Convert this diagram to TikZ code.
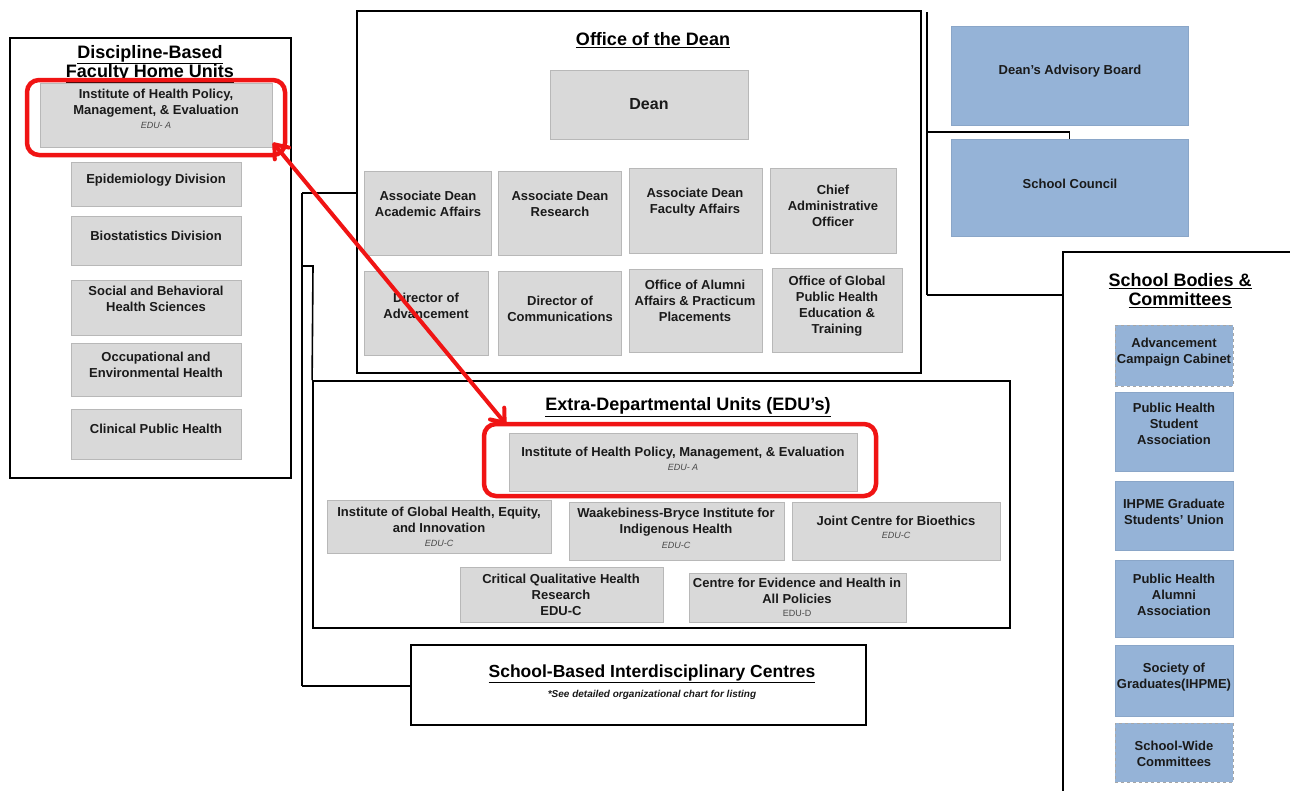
\documentclass[tikz,border=0pt]{standalone}
\usepackage{fontspec}
\setmainfont{Liberation Sans}
\usetikzlibrary{fit,calc}
\definecolor{boxgray}{HTML}{D9D9D9}
\definecolor{boxgrayline}{HTML}{B8B8B8}
\definecolor{boxblue}{HTML}{95B3D7}
\definecolor{boxblueline}{HTML}{8AA6C8}
\definecolor{textc}{HTML}{1A1A1A}
\definecolor{hlred}{HTML}{F01414}
\tikzset{
  frame/.style={draw=black, line width=1.8pt, inner sep=0pt},
  gbox/.style={draw=boxgrayline, fill=boxgray, line width=0.7pt, inner sep=0pt},
  bbox/.style={draw=boxblueline, fill=boxblue, line width=0.7pt, inner sep=0pt},
  dbbox/.style={bbox, draw=gray!70, dashed},
  txt/.style={font=\bfseries\fontsize{13}{16}\selectfont, align=center, text=textc, inner sep=0pt},
  bigtxt/.style={font=\bfseries\fontsize{16}{19}\selectfont, align=center, text=textc, inner sep=0pt},
  edu/.style={font=\itshape\fontsize{9}{11}\selectfont, text=textc!80, inner sep=0pt},
  ttl/.style={font=\bfseries\fontsize{18}{19}\selectfont, align=center, text=black, inner sep=0pt},
  subttl/.style={font=\bfseries\itshape\fontsize{10}{12}\selectfont, text=textc, inner sep=0pt},
  conn/.style={line width=1.6pt, draw=black},
  hl/.style={draw=hlred, line width=4.5pt, rounded corners=12pt, inner sep=0pt},
  redline/.style={draw=hlred, line width=4pt, line cap=round, line join=round}
}
\begin{document}
\begin{tikzpicture}[x=1pt,y=-1pt]
\useasboundingbox (0,0) rectangle (1290,790);
\fill[white] (0,0) rectangle (1290,790);

% ---------- Left: Discipline-Based Faculty Home Units ----------
\node[frame, fit={(10,38)(291,478)}] (disc) {};
\node[ttl] (discT) at (150,64) {\underline{Discipline-Based}\\\underline{Faculty Home Units}};
\node[gbox, fit={(40,83)(272,147)}] (hpL) {};
\node[txt] at (156,103.5) {Institute of Health Policy,\\Management, \& Evaluation};
\node[edu] at (156,125) {EDU- A};
\node[gbox, fit={(71,162)(241,206)}] (epi) {};
\node[txt] at (156,180) {Epidemiology Division};
\node[gbox, fit={(71,216)(241,265)}] (bio) {};
\node[txt] at (156,236) {Biostatistics Division};
\node[gbox, fit={(71,280)(241,335)}] (soc) {};
\node[txt] at (156,299) {Social and Behavioral\\Health Sciences};
\node[gbox, fit={(71,343)(241,396)}] (occ) {};
\node[txt] at (156,365) {Occupational and\\Environmental Health};
\node[gbox, fit={(71,409)(241,459)}] (cli) {};
\node[txt] at (156,429) {Clinical Public Health};

% ---------- Office of the Dean ----------
\node[frame, fit={(357,11)(921,373)}] (office) {};
\node[ttl] at (653,40) {\underline{Office of the Dean}};
\node[gbox, fit={(550,70)(748,139)}] (dean) {};
\node[bigtxt] at (649,104) {Dean};
\node[gbox, fit={(364,171)(491,255)}] (ada) {};
\node[txt] at (428,204) {Associate Dean\\Academic Affairs};
\node[gbox, fit={(498,171)(621,255)}] (adr) {};
\node[txt] at (560,204) {Associate Dean\\Research};
\node[gbox, fit={(629,168)(762,253)}] (adf) {};
\node[txt] at (695,202.5) {Associate Dean\\Faculty Affairs};
\node[gbox, fit={(770,168)(896,253)}] (cao) {};
\node[txt] at (833,206) {Chief\\Administrative\\Officer};
\node[gbox, fit={(364,271)(488,355)}] (dadv) {};
\node[txt] at (426,306) {Director of\\Advancement};
\node[gbox, fit={(498,271)(621,355)}] (dcom) {};
\node[txt] at (560,309) {Director of\\Communications};
\node[gbox, fit={(629,269)(762,352)}] (alum) {};
\node[txt] at (695,301) {Office of Alumni\\Affairs \& Practicum\\Placements};
\node[gbox, fit={(772,268)(902,352)}] (glob) {};
\node[txt] at (837,306) {Office of Global\\Public Health\\Education \&\\Training};

% ---------- Extra-Departmental Units ----------
\node[frame, fit={(313,381)(1010,628)}] (edu) {};
\node[ttl] at (688,407) {\underline{Extra-Departmental Units (EDU’s)}};
\node[gbox, fit={(509,433)(857,491)}] (hpE) {};
\node[txt] at (683,453) {Institute of Health Policy, Management, \& Evaluation};
\node[edu] at (683,467) {EDU- A};
\node[gbox, fit={(327,500)(551,553)}] (ighe) {};
\node[txt] at (439,520) {Institute of Global Health, Equity,\\and Innovation};
\node[edu] at (439,543) {EDU-C};
\node[gbox, fit={(569,502)(784,560)}] (wbi) {};
\node[txt] at (676,522) {Waakebiness-Bryce Institute for\\Indigenous Health};
\node[edu] at (676,545) {EDU-C};
\node[gbox, fit={(792,502)(1000,560)}] (jcb) {};
\node[txt] at (896,521) {Joint Centre for Bioethics};
\node[edu] at (896,535) {EDU-C};
\node[gbox, fit={(460,567)(663,622)}] (cqhr) {};
\node[txt] at (561,595) {Critical Qualitative Health\\Research\\EDU-C};
\node[gbox, fit={(689,573)(906,622)}] (ceh) {};
\node[txt] at (797,591) {Centre for Evidence and Health in\\All Policies};
\node[edu, font=\fontsize{9}{11}\selectfont] at (797,613) {EDU-D};

% ---------- School-Based Interdisciplinary Centres ----------
\node[frame, fit={(411,645)(866,725)}] (sbic) {};
\node[ttl, font=\bfseries\fontsize{17.5}{19}\selectfont] at (652,674) {\underline{School-Based Interdisciplinary Centres}};
\node[subttl] at (652,695) {*See detailed organizational chart for listing};

% ---------- Right side ----------
\node[bbox, fit={(951,26)(1188,125)}] (dab) {};
\node[txt] at (1070,71) {Dean’s Advisory Board};
\node[bbox, fit={(951,139)(1188,236)}] (sc) {};
\node[txt] at (1070,184) {School Council};

\coordinate (sbTL) at (1063,252);
\draw[conn] (1063,800) -- (sbTL) -- (1300,252);
\node[ttl] at (1180,290.5) {\underline{School Bodies \&}\\\underline{Committees}};
\node[dbbox, fit={(1115,325)(1233,386)}] (acc) {};
\node[txt] at (1174,352) {Advancement\\Campaign Cabinet};
\node[bbox, fit={(1115,392)(1233,471)}] (phsa) {};
\node[txt] at (1174,424) {Public Health\\Student\\Association};
\node[bbox, fit={(1115,481)(1233,550)}] (gsu) {};
\node[txt] at (1174,512) {IHPME Graduate\\Students’ Union};
\node[bbox, fit={(1115,560)(1233,637)}] (phaa) {};
\node[txt] at (1174,595) {Public Health\\Alumni\\Association};
\node[bbox, fit={(1115,645)(1233,716)}] (sog) {};
\node[txt] at (1174,677) {Society of\\Graduates(IHPME)};
\node[dbbox, fit={(1115,723)(1233,782)}] (swc) {};
\node[txt] at (1174,754) {School-Wide\\Committees};

% ---------- Connectors ----------
\coordinate (ltop) at (302,193);
\coordinate (lmid) at (302,266);
\coordinate (lbot) at (302,686);
\draw[conn] (ltop) -- (lbot);
\draw[conn] (ltop) -- (office.west |- ltop);
\draw[conn] (lmid) -- (313,266) -- (edu.north west);
\draw[conn] (lbot) -- (sbic.west |- lbot);

\coordinate (rtop) at (927,12);
\coordinate (rmid) at (927,132);
\coordinate (rbot) at (927,295);
\draw[conn] (rtop) -- (rbot);
\draw[conn] (rmid) -- (sc.north |- rmid) -- (sc.north);
\draw[conn] (rbot) -- (sbTL |- rbot);

% ---------- Highlights ----------
\node[hl, fit={(27,80)(285,155)}] (hlL) {};
\node[hl, fit={(484,424)(876,496)}] (hlE) {};
\coordinate (aL) at ([shift={(2,-3)}]hpL.south east);
\coordinate (aE) at ([shift={(-4,-10)}]hpE.north west);
\draw[redline] (aL) -- (aE);
\draw[redline] ($(aL)!15pt!38:(aE)$) -- (aL) -- ($(aL)!15pt!-38:(aE)$);
\draw[redline] ($(aE)!15pt!38:(aL)$) -- (aE) -- ($(aE)!15pt!-38:(aL)$);
\end{tikzpicture}
\end{document}
